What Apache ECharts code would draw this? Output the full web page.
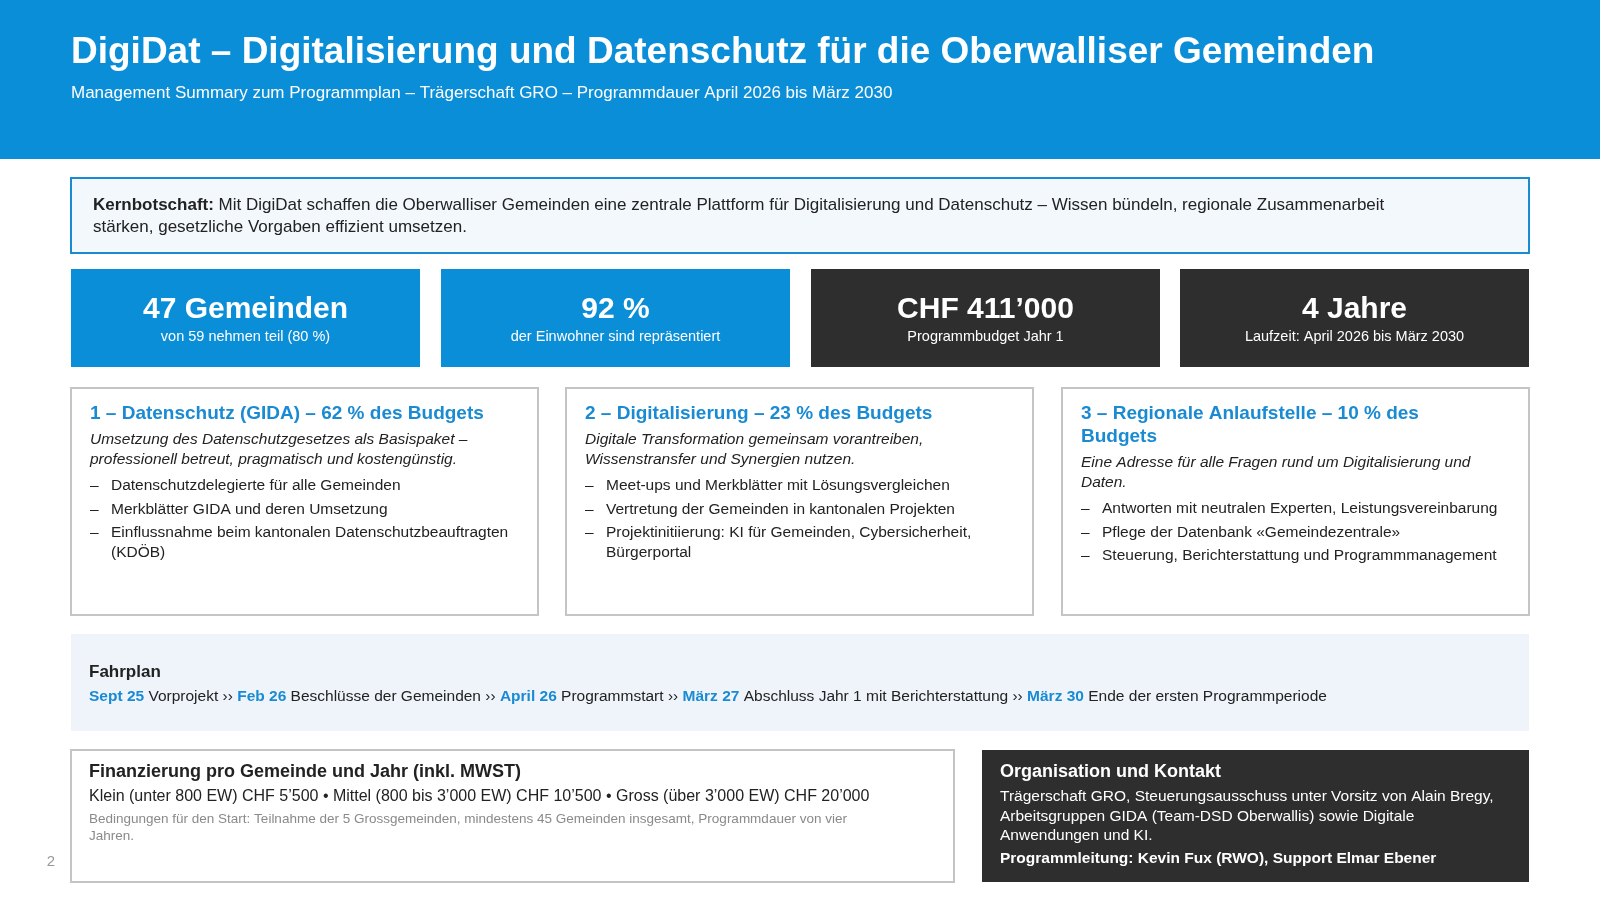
<!DOCTYPE html>
<html><head><meta charset="utf-8">
<script src="https://cdn.jsdelivr.net/npm/echarts@6/dist/echarts.min.js"></script>
<style>html,body{margin:0;padding:0;background:#fff}#c{width:1600px;height:901px}</style>
</head><body><div id="c"></div>
<script>
const title = "DigiDat – Digitalisierung und Datenschutz für die Oberwalliser Gemeinden";
const subtitle = "Management Summary zum Programmplan – Trägerschaft GRO – Programmdauer April 2026 bis März 2030";
const kernLabel = "Kernbotschaft:";
const kernLines = [" Mit DigiDat schaffen die Oberwalliser Gemeinden eine zentrale Plattform für Digitalisierung und Datenschutz – Wissen bündeln, regionale Zusammenarbeit", "stärken, gesetzliche Vorgaben effizient umsetzen."];
const kpiValues = ["47 Gemeinden", "92 %", "CHF 411’000", "4 Jahre"];
const kpiLabels = ["von 59 nehmen teil (80 %)", "der Einwohner sind repräsentiert", "Programmbudget Jahr 1", "Laufzeit: April 2026 bis März 2030"];
const kpiDark = [false, false, true, true];
const cardTitles = [["1 – Datenschutz (GIDA) – 62 % des Budgets"], ["2 – Digitalisierung – 23 % des Budgets"], ["3 – Regionale Anlaufstelle – 10 % des", "Budgets"]];
const cardIntro = [["Umsetzung des Datenschutzgesetzes als Basispaket –", "professionell betreut, pragmatisch und kostengünstig."], ["Digitale Transformation gemeinsam vorantreiben,", "Wissenstransfer und Synergien nutzen."], ["Eine Adresse für alle Fragen rund um Digitalisierung und", "Daten."]];
const cardBullets = [
  [["Datenschutzdelegierte für alle Gemeinden"], ["Merkblätter GIDA und deren Umsetzung"], ["Einflussnahme beim kantonalen Datenschutzbeauftragten", "(KDÖB)"]],
  [["Meet-ups und Merkblätter mit Lösungsvergleichen"], ["Vertretung der Gemeinden in kantonalen Projekten"], ["Projektinitiierung: KI für Gemeinden, Cybersicherheit,", "Bürgerportal"]],
  [["Antworten mit neutralen Experten, Leistungsvereinbarung"], ["Pflege der Datenbank «Gemeindezentrale»"], ["Steuerung, Berichterstattung und Programmmanagement"]]
];
const fahrplanDates = ["Sept 25", "Feb 26", "April 26", "März 27", "März 30"];
const fahrplanSteps = ["Vorprojekt", "Beschlüsse der Gemeinden", "Programmstart", "Abschluss Jahr 1 mit Berichterstattung", "Ende der ersten Programmperiode"];
const finTitle = "Finanzierung pro Gemeinde und Jahr (inkl. MWST)";
const finLine = "Klein (unter 800 EW) CHF 5’500 • Mittel (800 bis 3’000 EW) CHF 10’500 • Gross (über 3’000 EW) CHF 20’000";
const finNote = ["Bedingungen für den Start: Teilnahme der 5 Grossgemeinden, mindestens 45 Gemeinden insgesamt, Programmdauer von vier", "Jahren."];
const orgTitle = "Organisation und Kontakt";
const orgLines = ["Trägerschaft GRO, Steuerungsausschuss unter Vorsitz von Alain Bregy,", "Arbeitsgruppen GIDA (Team-DSD Oberwallis) sowie Digitale", "Anwendungen und KI."];
const orgLead = "Programmleitung: Kevin Fux (RWO), Support Elmar Ebener";
const pageNo = "2";

const F = '"Liberation Sans", Arial, Helvetica, sans-serif';
const BLUE = '#0b8ed8', DARK = '#2e2e2e', TBLUE = '#1a8bd3';
const g = [];
function rect(x,y,w,h,fill,stroke,lw){g.push({type:'rect',shape:{x,y,width:w,height:h},style:{fill,stroke:stroke||null,lineWidth:lw||0}});}
function txt(x,y,t,o){o=o||{};g.push({type:'text',x,y,style:Object.assign({text:t,fontFamily:F,fontSize:16,fill:'#222',textVerticalAlign:'middle',textAlign:'left'},o)});}

rect(0,0,1600,159,BLUE);
txt(71,53,title,{fontSize:37,fontWeight:'bold',fill:'#fff'});
txt(71,93,subtitle,{fontSize:17,fill:'#fff'});

rect(71,178,1458,75,'#f3f8fc','#1a8bd3',2);
g.push({type:'text',x:93,y:205,style:{text:'{b|'+kernLabel+'}'+kernLines[0],fontFamily:F,fontSize:17,fill:'#222',textVerticalAlign:'middle',rich:{b:{fontWeight:'bold',fontSize:17,fontFamily:F,fill:'#222'}}}});
txt(93,227,kernLines[1],{fontSize:17});

const kx=[71,441,811,1180], kw=349;
kpiValues.forEach((v,i)=>{
  rect(kx[i],269,kw,98,kpiDark[i]?DARK:BLUE);
  txt(kx[i]+kw/2,310,v,{fontSize:30,fontWeight:'bold',fill:'#fff',textAlign:'center'});
  txt(kx[i]+kw/2,337,kpiLabels[i],{fontSize:14.5,fill:'#fff',textAlign:'center'});
});

const cx=[71,566,1062], cw=467;
cardTitles.forEach((t,i)=>{
  rect(cx[i],388,cw,227,'#fff','#c4c4c4',2);
  let y=414; const x=cx[i]+19;
  t.forEach(l=>{txt(x,y,l,{fontSize:19,fontWeight:'bold',fill:TBLUE});y+=23;});
  y+=3;
  cardIntro[i].forEach(l=>{txt(x,y,l,{fontSize:15.5,fontStyle:'italic',fill:'#222'});y+=19.5;});
  y+=7;
  cardBullets[i].forEach(b=>{
    txt(x,y,'–',{fontSize:15.5});
    b.forEach((l,j)=>{txt(x+21,y,l,{fontSize:15.5});y+=19.5;});
    y+=4;
  });
});

rect(71,634,1458,97,'#eef4fa');
txt(89,672,'Fahrplan',{fontSize:17,fontWeight:'bold'});
let fp='';
fahrplanDates.forEach((d,i)=>{fp+=(i?' ›› ':'')+'{b|'+d+'} '+fahrplanSteps[i];});
g.push({type:'text',x:89,y:697,style:{text:fp,fontFamily:F,fontSize:15.5,fill:'#222',textVerticalAlign:'middle',rich:{b:{fontWeight:'bold',fontSize:15.5,fontFamily:F,fill:TBLUE}}}});

rect(71,750,883,132,'#fff','#c4c4c4',2);
txt(89,772,finTitle,{fontSize:18,fontWeight:'bold'});
txt(89,797,finLine,{fontSize:16});
txt(89,819,finNote[0],{fontSize:13.5,fill:'#8a8a8a'});
txt(89,836,finNote[1],{fontSize:13.5,fill:'#8a8a8a'});

rect(982,750,547,132,DARK);
txt(1000,772,orgTitle,{fontSize:18,fontWeight:'bold',fill:'#fff'});
orgLines.forEach((l,i)=>txt(1000,797+i*19.5,l,{fontSize:15.5,fill:'#fff'}));
txt(1000,859,orgLead,{fontSize:15.5,fontWeight:'bold',fill:'#fff'});

txt(51,862,pageNo,{fontSize:15,fill:'#999',textAlign:'center'});

const chart = echarts.init(document.getElementById('c'),null,{renderer:'canvas'});
chart.setOption({animation:false,graphic:g});
</script></body></html>
